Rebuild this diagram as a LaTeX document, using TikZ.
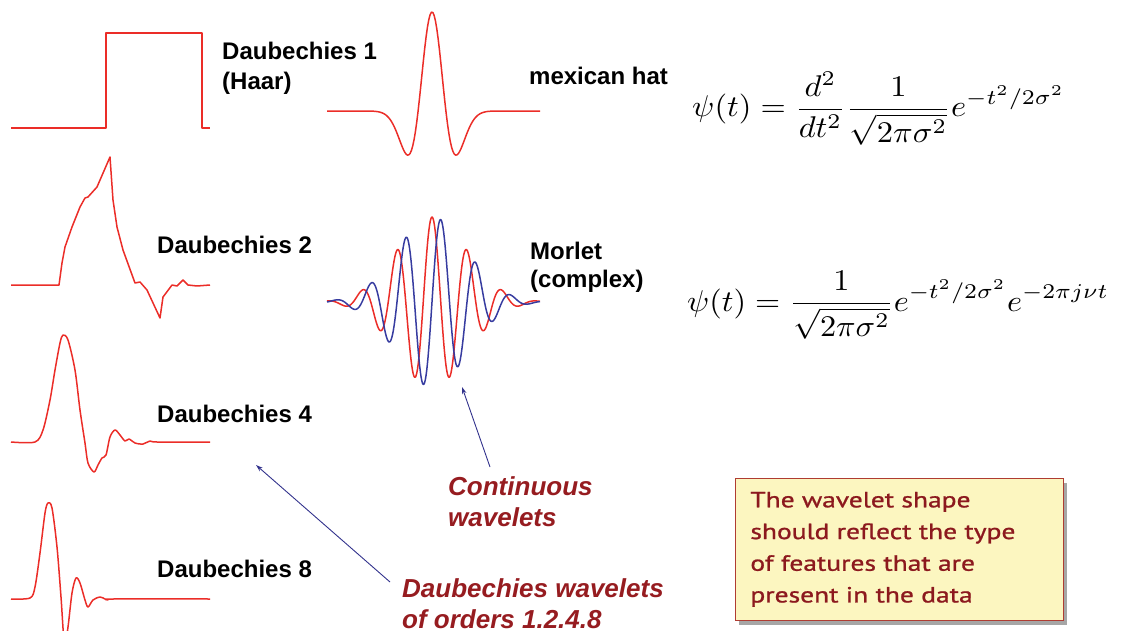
\documentclass[tikz,border=0pt]{standalone}
\usepackage{fontspec}
\newfontfamily\arialf{Liberation Sans}
\newfontfamily\calloutf[FakeStretch=1.25,FakeBold=1]{PT Sans}
\usetikzlibrary{shadows,arrows.meta}
\definecolor{wred}{RGB}{235,45,40}
\definecolor{wblue}{RGB}{55,60,160}
\definecolor{arrblue}{RGB}{50,50,140}
\definecolor{lblred}{RGB}{150,28,32}
\definecolor{callfill}{RGB}{252,246,192}
\definecolor{callborder}{RGB}{175,60,50}
\definecolor{calltext}{RGB}{140,25,30}
\newcommand\mylines[1]{\begin{tabular}[t]{@{}l@{}}#1\end{tabular}}
\begin{document}
\begin{tikzpicture}[x=1pt,y=-1pt,
 wave/.style={wred, line width=1.5pt, line join=round},
 bwave/.style={wblue, line width=1.5pt, line join=round},
 wlabel/.style={anchor=base west, inner sep=0, font=\arialf\bfseries\fontsize{24}{30}\selectfont},
 redlabel/.style={anchor=base west, inner sep=0, text=lblred, font=\arialf\bfseries\itshape\fontsize{26}{31}\selectfont},
 pointer/.style={arrblue, line width=0.9pt, -{Stealth[length=7pt,width=4.5pt]}},
 eqnode/.style={anchor=base west, inner sep=0},
 callout/.style={anchor=north west, draw=callborder, line width=0.8pt, fill=callfill,
   text=calltext, align=left, text width=298pt, inner xsep=15pt, minimum height=142pt,
   font=\calloutf\fontsize{22}{31.7}\selectfont,
   drop shadow={shadow xshift=4pt, shadow yshift=-5pt, fill=black, opacity=0.35}},
]
\useasboundingbox (0,0) rectangle (1122,631);
\begin{scope}
\clip (0,0) rectangle (1122,631);
% Haar
\draw[wave] (11,128) -- (106,128) -- (106,33) -- (202,33) -- (202,128) -- (210,128);
% Daubechies 2
\draw[wave] (11,285) -- (59,285) -- (62,263) -- (65,247) -- (72,227) -- (80,207) -- (85,198) -- (88,197)
  -- (97,187) -- (110,157) -- (113,200) -- (117,227) -- (123,250) -- (135,283) -- (140,282) -- (147,290)
  -- (160,318) -- (163,297) -- (172,285) -- (177,286) -- (183,280) -- (188,285) -- (197,286) -- (210,285);
% Daubechies 4
\draw[wave] plot[smooth, tension=0.5] coordinates {(11,442) (35,442) (43,430) (50,400) (55,370) (60,343)
  (63,335) (68,340) (75,370) (80,410) (85,443) (88,463) (94,472) (98,465) (102,458) (106,455) (110,437)
  (115,430) (120,435) (125,441) (129,439) (135,443) (143,444) (150,441) (157,442) (210,442)};
% Daubechies 8
\draw[wave] plot[smooth, tension=0.5] coordinates {(11,599) (30,598) (35,587) (40,553) (45,513) (48,503)
  (52,508) (57,547) (61,597) (64.5,645) (68,627) (72,593) (76,578) (80,583) (85,600) (88,607) (93,600)
  (100,597) (105,599) (108,600) (113,599) (210,599)};
% Mexican hat
\draw[wave] plot[domain=327:540, samples=160]
  (\x, {111 - 99*(1-((\x-432)/13.9)^2)*exp(-0.5*((\x-432)/13.9)^2)});
% Morlet
\draw[wave] plot[domain=327:540, samples=300]
  (\x, {302 - 85*cos(10.2857*(\x-432))*exp(((\x-432)*(\x-432))/(-2480))});
\draw[bwave] plot[domain=327:540, samples=300]
  (\x, {302 - 85*sin(10.2857*(\x-432))*exp(((\x-432)*(\x-432))/(-2480))});
\end{scope}

% labels
\node[wlabel] (d1) at (222,60) {\mylines{Daubechies 1\\(Haar)}};
\node[wlabel] (d2) at (157,254) {Daubechies 2};
\node[wlabel] (d4) at (157,422) {Daubechies 4};
\node[wlabel] (d8) at (157,577) {Daubechies 8};
\node[wlabel] (mh) at (529,85) {mexican hat};
\node[wlabel, font=\arialf\bfseries\fontsize{24}{28}\selectfont] (ml) at (530,260) {\mylines{Morlet\\(complex)}};

% equations
\node[eqnode] (eq1) at (692,117) {\scalebox{3.25}[3.0]{$\displaystyle \psi(t) = \frac{d^2}{dt^2}\frac{1}{\sqrt{2\pi\sigma^2}}e^{-t^2/2\sigma^2}$}};
\node[eqnode] (eq2) at (687,311) {\scalebox{3.23}[3.0]{$\displaystyle \psi(t) = \frac{1}{\sqrt{2\pi\sigma^2}}e^{-t^2/2\sigma^2}e^{-2\pi j\nu t}$}};

% red labels and pointers
\node[redlabel] (cw) at (448,495) {\mylines{Continuous\\wavelets}};
\node[redlabel] (dw) at (402,597) {\mylines{Daubechies wavelets\\of orders 1.2.4.8}};
\coordinate (cwtail) at (490,467);
\coordinate (cwhead) at (462,387);
\coordinate (dwtail) at (390,582);
\coordinate (dwhead) at (256,465);
\draw[pointer] (cwtail) -- (cwhead);
\draw[pointer] (dwtail) -- (dwhead);

% callout
\node[callout] (note) at (735,478) {The wavelet shape\\should reflect the type\\of features that are\\present in the data};
\end{tikzpicture}
\end{document}
